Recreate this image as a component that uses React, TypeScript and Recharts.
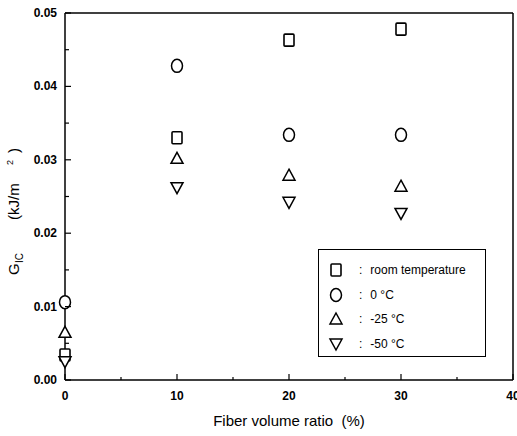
import React from 'react';
import { ScatterChart, Scatter, XAxis, YAxis } from 'recharts';

const fiberRatio = [0, 10, 20, 30];
const roomTemp = [0.0034, 0.033, 0.0463, 0.0478];
const zeroC = [0.0106, 0.0428, 0.0334, 0.0334];
const minus25C = [0.0065, 0.0302, 0.0279, 0.0264];
const minus50C = [0.0025, 0.0262, 0.0242, 0.0227];

const xTicks = [0, 5, 10, 15, 20, 25, 30, 35, 40];
const xLabels = ['0', '10', '20', '30', '40'];
const yTicks = [0, 0.005, 0.01, 0.015, 0.02, 0.025, 0.03, 0.035, 0.04, 0.045, 0.05];
const yLabels = ['0.00', '0.01', '0.02', '0.03', '0.04', '0.05'];

const seriesNames = ['room temperature', '0 °C', '-25 °C', '-50 °C'];

const toPoints = (vals: number[]) => fiberRatio.map((x, i) => ({ x, y: vals[i] }));

const FONT = '"Liberation Sans", Arial, sans-serif';
const PLOT_W = 448;
const PLOT_H = 367;

const Square = ({ cx, cy }: any) => (
  <rect x={cx - 5} y={cy - 6} width={10} height={12} rx={1} fill="#fff" stroke="#000" strokeWidth={1.6} />
);
const Circle = ({ cx, cy }: any) => (
  <ellipse cx={cx} cy={cy} rx={5.5} ry={6.5} fill="#fff" stroke="#000" strokeWidth={1.5} />
);
const TriUp = ({ cx, cy }: any) => (
  <path d={`M${cx},${cy - 6} L${cx + 6},${cy + 5} L${cx - 6},${cy + 5} Z`} fill="#fff" stroke="#000" strokeWidth={1.5} />
);
const TriDown = ({ cx, cy }: any) => (
  <path d={`M${cx - 6},${cy - 5} L${cx + 6},${cy - 5} L${cx},${cy + 6} Z`} fill="#fff" stroke="#000" strokeWidth={1.5} />
);

const shapes = [Square, Circle, TriUp, TriDown];

const XTick = ({ x, y, payload }: any) => {
  const v = payload.value;
  const major = v % 10 === 0;
  return (
    <g>
      <line x1={x} y1={y} x2={x} y2={y - (major ? 6 : 3)} stroke="#000" strokeWidth={1.2} />
      {/* right edge of the frame */}
      {v === 40 && <line x1={x} y1={y} x2={x} y2={y - PLOT_H} stroke="#000" strokeWidth={1.5} />}
      {major && (
        <text x={x} y={y + 20} textAnchor="middle" fontSize={12} fontWeight="bold" fontFamily={FONT} fill="#000">
          {xLabels[v / 10]}
        </text>
      )}
    </g>
  );
};

const YTick = ({ x, y, index }: any) => {
  const major = index % 2 === 0;
  return (
    <g>
      <line x1={x} y1={y} x2={x + (major ? 6 : 4)} y2={y} stroke="#000" strokeWidth={1.2} />
      {/* top edge of the frame */}
      {index === yTicks.length - 1 && <line x1={x} y1={y} x2={x + PLOT_W} y2={y} stroke="#000" strokeWidth={1.5} />}
      {major && (
        <text x={x - 8} y={y + 4} textAnchor="end" fontSize={12} fontWeight="bold" fontFamily={FONT} fill="#000">
          {yLabels[index / 2]}
        </text>
      )}
    </g>
  );
};

const YTitle = () => (
  <g transform="translate(19,275) rotate(-90)" fontFamily={FONT}>
    <text x={0} y={0} fontSize={15} fill="#000">G</text>
    <text x={12} y={4} fontSize={10} fill="#000">IC</text>
    <text x={55} y={0} fontSize={15} fill="#000">(kJ/m</text>
    <text x={110} y={-6} fontSize={9} fill="#000">2</text>
    <text x={122} y={0} fontSize={15} fill="#000">)</text>
  </g>
);

const LegendBox = () => (
  <div
    style={{
      position: 'absolute',
      left: 318,
      top: 249,
      width: 168,
      height: 108,
      border: '1.5px solid #000',
      background: '#fff',
      fontFamily: FONT,
      fontSize: 12,
      boxSizing: 'border-box',
      paddingTop: 8,
    }}
  >
    {seriesNames.map((name, i) => {
      const Shape = shapes[i];
      return (
        <div key={name} style={{ display: 'flex', alignItems: 'center', height: 24.5 }}>
          <svg width={34} height={16}>
            <Shape cx={17} cy={8} />
          </svg>
          <span style={{ marginLeft: 6, marginRight: 8 }}>:</span>
          <span>{name}</span>
        </div>
      );
    })}
  </div>
);

export default function App() {
  const data = [roomTemp, zeroC, minus25C, minus50C];
  return (
    <div style={{ position: 'absolute', left: 0, top: 0, width: 517, height: 436, background: '#fff' }}>
      <ScatterChart width={517} height={436} margin={{ top: 13, right: 4, bottom: 0, left: 0 }}>
        <XAxis
          type="number"
          dataKey="x"
          domain={[0, 40]}
          ticks={xTicks}
          tickSize={0}
          tickMargin={0}
          tick={<XTick />}
          height={56}
          stroke="#000"
          strokeWidth={1.5}
          interval={0}
          label={{ value: 'Fiber volume ratio\u00a0\u00a0(%)', position: 'insideBottom', offset: 10, fontSize: 15, fill: '#000', fontFamily: FONT }}
        />
        <YAxis
          type="number"
          dataKey="y"
          domain={[0, 0.05]}
          ticks={yTicks}
          tickSize={0}
          tickMargin={0}
          tick={<YTick />}
          width={65}
          stroke="#000"
          strokeWidth={1.5}
          interval={0}
          label={{ content: () => <YTitle /> }}
        />
        {data.map((vals, i) => (
          <Scatter
            key={seriesNames[i]}
            name={seriesNames[i]}
            data={toPoints(vals)}
            shape={shapes[i]}
            isAnimationActive={false}
          />
        ))}
      </ScatterChart>
      <LegendBox />
    </div>
  );
}
